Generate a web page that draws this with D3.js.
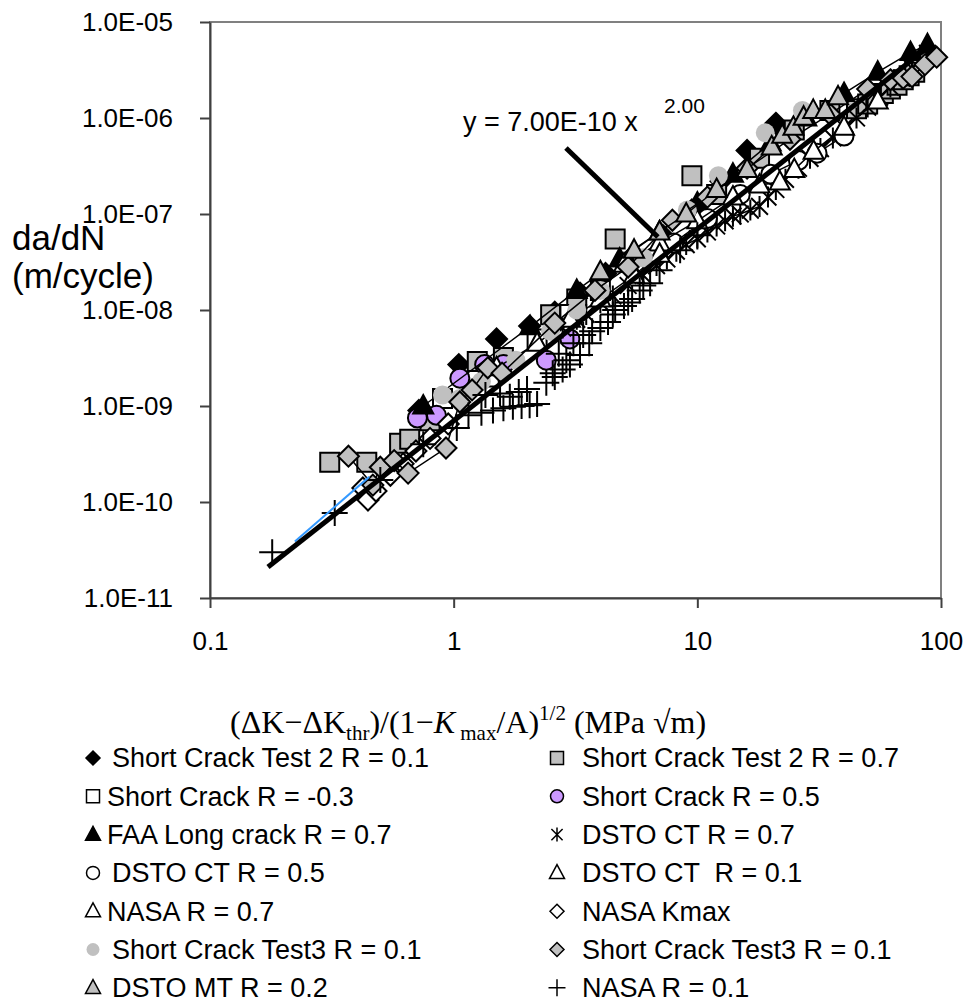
<!DOCTYPE html>
<html>
<head>
<meta charset="utf-8">
<script src="https://cdn.jsdelivr.net/npm/d3@7"></script>
<style>
  body { margin: 0; background: #fff; }
  svg { display: block; font-family: "Liberation Sans", Arial, sans-serif; }
</style>
</head>
<body>
<svg id="chart" width="965" height="1007"></svg>
<script>
// --- data ---
const xTicks = [0.1, 1, 10, 100];
const yTicks = [1e-11, 1e-10, 1e-9, 1e-8, 1e-7, 1e-6, 1e-5];

// Short Crack Test 2 R = 0.1 (black diamond)
const sct2R01X = [0.72, 0.78, 1.05, 1.5, 2.05, 2.6, 3.3, 4.2, 5.5, 7.2, 9.5, 12.5, 16, 21];
const sct2R01Y = [9.0e-10, 8.0e-10, 2.7e-9, 5.0e-9, 6.8e-9, 9.5e-9, 1.5e-8, 2.4e-8, 3.8e-8, 6.0e-8, 1.1e-7, 2.2e-7, 4.6e-7, 8.8e-7];
// Short Crack Test 2 R = 0.7 (grey square)
const sct2R07X = [0.31, 0.44, 0.6, 0.66, 0.8, 1.25, 1.6, 2.5, 3.2, 4.6, 9.5, 12, 18, 25, 35, 45, 50, 54, 58, 62, 66, 70, 74, 78];
const sct2R07Y = [2.6e-10, 2.6e-10, 4.1e-10, 4.5e-10, 7e-10, 2.9e-9, 3.2e-9, 8.9e-9, 1.3e-8, 5.5e-8, 2.5e-7, 1.6e-7, 3.8e-7, 7.5e-7, 1.2e-6, 1.25e-6, 1.4e-6, 1.6e-6, 1.8e-6, 2.0e-6, 2.2e-6, 2.5e-6, 2.75e-6, 3.0e-6];
// Short Crack R = -0.3 (open square)
const scRm03X = [0.9, 1.4, 2.2, 3.0, 4.0];
const scRm03Y = [1.2e-9, 2.0e-9, 5e-9, 9e-9, 1.6e-8];
// Short Crack R = 0.5 (purple circle)
const scR05X = [0.71, 0.85, 1.06, 1.34, 1.6, 2.4, 3.0];
const scR05Y = [7.5e-10, 8e-10, 1.95e-9, 2.7e-9, 2.7e-9, 3e-9, 5e-9];
// FAA Long crack R = 0.7 (black triangle)
const faaR07X = [0.75, 2.06, 3.2, 4.8, 7, 10, 14, 20, 28, 40, 55, 75, 88];
const faaR07Y = [1.0e-9, 6.7e-9, 1.6e-8, 3.4e-8, 6.5e-8, 1.3e-7, 2.6e-7, 5.5e-7, 1.0e-6, 1.8e-6, 3.0e-6, 4.8e-6, 5.8e-6];
// DSTO CT R = 0.7 (star)
const dctR07X = [2.8, 3.2, 3.5, 4.0, 4.5, 5.2, 6, 6.8, 7.5, 8.2, 9, 10, 11, 12, 13, 14, 15, 16.5, 18, 19.5, 21, 23, 26, 29, 32, 36, 40, 45, 50, 56, 62, 69, 76, 82, 88];
const dctR07Y = [6.5e-9, 8e-9, 9e-9, 1.2e-8, 1.4e-8, 1.8e-8, 2.3e-8, 2.9e-8, 3.4e-8, 4.1e-8, 4.8e-8, 5.5e-8, 6.5e-8, 7.5e-8, 8.5e-8, 9.5e-8, 1.0e-7, 1.1e-7, 1.2e-7, 1.5e-7, 1.8e-7, 2.3e-7, 3.0e-7, 3.8e-7, 4.8e-7, 6.2e-7, 8.0e-7, 1.0e-6, 1.3e-6, 1.65e-6, 2.1e-6, 2.6e-6, 3.3e-6, 4.0e-6, 4.7e-6];
// DSTO CT R = 0.5 (open circle)
const dctR05X = [8, 11, 15, 20, 26, 31, 40];
const dctR05Y = [5e-8, 9e-8, 1.6e-7, 2.6e-7, 3.6e-7, 4.3e-7, 6.5e-7];
// DSTO CT R = 0.1 (open triangle)
const dctR01X = [5, 7, 10, 14, 18, 21.8, 25, 30, 40, 55];
const dctR01Y = [3e-8, 5e-8, 8.5e-8, 1.5e-7, 2.0e-7, 2.15e-7, 2.9e-7, 4.5e-7, 8e-7, 1.5e-6];
// NASA R = 0.7 (open triangle)
const nasaR07X = [1.5, 2.2, 3, 4, 5.5, 7];
const nasaR07Y = [2.5e-9, 4.5e-9, 8e-9, 1.3e-8, 2.3e-8, 3.8e-8];
// NASA Kmax (open diamond)
const nasaKmaxX = [0.424, 0.445, 0.48, 0.55, 0.62, 0.7, 0.8, 0.95];
const nasaKmaxY = [1.4e-10, 1.05e-10, 1.3e-10, 1.9e-10, 2.5e-10, 3.4e-10, 4.6e-10, 6.5e-10];
// Short Crack Test3 R = 0.1 (grey circle)
const sct3CircX = [0.9, 1.06, 1.3, 1.8, 2.5, 3.2, 4.0, 6.0, 9.1, 12.2, 19, 27];
const sct3CircY = [1.3e-9, 1.2e-9, 1.8e-9, 3e-9, 6e-9, 1e-8, 1.6e-8, 3.5e-8, 1.1e-7, 2.5e-7, 7e-7, 1.2e-6];
// Short Crack Test3 R = 0.1 (grey diamond)
const sct3DiamX = [0.37, 0.466, 0.5, 0.57, 0.65, 0.93, 1.06, 1.19, 1.38, 1.58, 2.6, 3.8, 5.2, 7.9, 11, 16, 24, 35, 50, 62, 70, 76, 86, 96];
const sct3DiamY = [3e-10, 1.5e-10, 2.3e-10, 2.7e-10, 2e-10, 3.65e-10, 1.1e-9, 1.47e-9, 2.5e-9, 2.2e-9, 7.3e-9, 1.6e-8, 2.8e-8, 8.6e-8, 1.5e-7, 3e-7, 6e-7, 1.1e-6, 2.0e-6, 2.5e-6, 2.6e-6, 2.7e-6, 3.6e-6, 4.3e-6];
// DSTO MT R = 0.2 (grey triangle)
const dmtR02X = [4.0, 5.5, 7, 9, 12, 16, 20.2, 22.3, 24.8, 27.3, 29.9, 33.5, 37.8];
const dmtR02Y = [2.5e-8, 4.2e-8, 6.5e-8, 1.0e-7, 1.8e-7, 2.9e-7, 5e-7, 6.6e-7, 8e-7, 1.02e-6, 1.2e-6, 1.2e-6, 1.66e-6];
// NASA R = 0.1 (plus)
const nasaR01X = [0.18, 0.325, 0.5, 0.75, 1.03, 1.15, 1.3, 1.35, 1.45, 1.55, 1.6, 1.7, 1.75, 1.85, 1.9, 2.0, 2.05, 2.2, 2.4, 2.55, 2.6, 2.7, 2.8, 2.9, 3.0, 3.1, 3.3, 3.4, 3.6, 3.7, 4.0, 4.3, 4.5, 4.6, 5.0, 5.2, 5.4, 5.8, 6, 6.4, 7, 8.5, 10];
const nasaR01Y = [3e-11, 7.7e-11, 1.7e-10, 4e-10, 5.9e-10, 8e-10, 8.5e-10, 1.3e-9, 9e-10, 1.35e-9, 9.5e-10, 1.25e-9, 9.8e-10, 1.4e-9, 1e-9, 1.5e-9, 1.02e-9, 1.05e-9, 1.75e-9, 2.2e-9, 2.0e-9, 3.5e-9, 2.4e-9, 3.0e-9, 2.7e-9, 4.5e-9, 3.4e-9, 5.5e-9, 4.5e-9, 6e-9, 6.5e-9, 7.5e-9, 9e-9, 1.0e-8, 1.1e-8, 1.2e-8, 1.3e-8, 1.6e-8, 1.8e-8, 1.9e-8, 2.6e-8, 4.2e-8, 6e-8];

// thin blue series line at the low end, power-law fit, annotation pointer
const blueX = [0.223, 0.45];
const blueY = [3.6e-11, 1.7e-10];
const fitX = [0.173, 92];
const fitY = [2.1e-11, 5.9e-6];
const pointerX = [2.89, 6.89];
const pointerY = [4.87e-7, 5.75e-8];

// series table (legend order, left column then right column per row)
const series = [
  { name: "Short Crack Test 2 R = 0.1", x: sct2R01X, y: sct2R01Y, shape: "diamond", fill: "#000", stroke: "#000" },
  { name: "Short Crack Test 2 R = 0.7", x: sct2R07X, y: sct2R07Y, shape: "square", fill: "#c0c0c0", stroke: "#000" },
  { name: "Short Crack R = -0.3", x: scRm03X, y: scRm03Y, shape: "square", fill: "#fff", stroke: "#000", tight: true },
  { name: "Short Crack R = 0.5", x: scR05X, y: scR05Y, shape: "circle", fill: "#cc99ff", stroke: "#000" },
  { name: "FAA Long crack R = 0.7", x: faaR07X, y: faaR07Y, shape: "triangle", fill: "#000", stroke: "#000", tight: true, line: true },
  { name: "DSTO CT R = 0.7", x: dctR07X, y: dctR07Y, shape: "star", fill: "none", stroke: "#000", line: true },
  { name: "DSTO CT R = 0.5", x: dctR05X, y: dctR05Y, shape: "circle", fill: "#fff", stroke: "#000", line: true },
  { name: "DSTO CT  R = 0.1", x: dctR01X, y: dctR01Y, shape: "triangle", fill: "#fff", stroke: "#000", line: true },
  { name: "NASA R = 0.7", x: nasaR07X, y: nasaR07Y, shape: "triangle", fill: "#fff", stroke: "#000", tight: true, line: true },
  { name: "NASA Kmax", x: nasaKmaxX, y: nasaKmaxY, shape: "diamond", fill: "#fff", stroke: "#000" },
  { name: "Short Crack Test3 R = 0.1", x: sct3CircX, y: sct3CircY, shape: "circle", fill: "#c0c0c0", stroke: "none" },
  { name: "Short Crack Test3 R = 0.1", x: sct3DiamX, y: sct3DiamY, shape: "diamond", fill: "#c0c0c0", stroke: "#000", line: true },
  { name: "DSTO MT R = 0.2", x: dmtR02X, y: dmtR02Y, shape: "triangle", fill: "#c0c0c0", stroke: "#000", line: true },
  { name: "NASA R = 0.1", x: nasaR01X, y: nasaR01Y, shape: "plus", fill: "none", stroke: "#000" }
];

// marker outlines, centred on 0,0
function shapePath(shape, s) {
  switch (shape) {
    case "square": return `M${-s},${-s}H${s}V${s}H${-s}Z`;
    case "diamond": return `M0,${-s}L${s},0L0,${s}L${-s},0Z`;
    case "triangle": return `M0,${-s * 1.1}L${s},${s * 0.75}L${-s},${s * 0.75}Z`;
    case "circle": return `M${s},0A${s},${s} 0 1,1 ${-s},0A${s},${s} 0 1,1 ${s},0Z`;
    case "plus": return `M${-s},0H${s}M0,${-s}V${s}`;
    case "star": return `M${-s * 0.8},${-s * 0.8}L${s * 0.8},${s * 0.8}M${-s * 0.8},${s * 0.8}L${s * 0.8},${-s * 0.8}M0,${-s}V${s}`;
  }
}
const plotSize = { square: 9.5, diamond: 10.5, triangle: 10, circle: 9.5, plus: 13, star: 10.5 };
const legendSize = { square: 6.5, diamond: 7, triangle: 7.5, circle: 6.5, plus: 8.5, star: 7 };

const svg = d3.select("#chart");
const plot = { left: 210, right: 941, top: 22, bottom: 598 };

const x = d3.scaleLog().domain([0.1, 100]).range([plot.left, plot.right]);
const y = d3.scaleLog().domain([1e-11, 1e-5]).range([plot.bottom, plot.top]);

// plot frame
svg.append("rect")
  .attr("x", plot.left).attr("y", plot.top)
  .attr("width", plot.right - plot.left).attr("height", plot.bottom - plot.top)
  .attr("fill", "none").attr("stroke", "#808080").attr("stroke-width", 2);

// axes
const fmtE = v => {
  const e = Math.round(Math.log10(v));
  return "1.0E" + (e < 0 ? "-" : "+") + String(Math.abs(e)).padStart(2, "0");
};

const yAxis = svg.append("g")
  .attr("transform", `translate(${plot.left},0)`)
  .call(d3.axisLeft(y).tickValues(yTicks).tickFormat(fmtE).tickSize(10).tickSizeOuter(0).tickPadding(27));

const xAxis = svg.append("g")
  .attr("transform", `translate(0,${plot.bottom})`)
  .call(d3.axisBottom(x).tickValues(xTicks).tickFormat(d3.format("~g")).tickSize(10).tickSizeOuter(0).tickPadding(24));

[yAxis, xAxis].forEach(a => {
  a.select(".domain").attr("stroke", "#404040").attr("stroke-width", 2);
  a.selectAll(".tick line").attr("stroke", "#404040").attr("stroke-width", 2);
  a.selectAll(".tick text").attr("fill", "#000").style("font-size", "26px")
    .style("font-family", "'Liberation Sans', Arial, sans-serif");
});

// series lines and markers
const lineGen = d3.line().x(d => x(d[0])).y(d => y(d[1]));
const data = s => s.x.map((v, i) => [v, s.y[i]]);

const marks = svg.append("g");
series.forEach(s => {
  if (s.line) {
    marks.append("path").datum(data(s))
      .attr("d", lineGen).attr("fill", "none")
      .attr("stroke", "#000").attr("stroke-width", 1.5);
  }
  marks.append("g").selectAll("path")
    .data(data(s))
    .join("path")
    .attr("transform", d => `translate(${x(d[0])},${y(d[1])})`)
    .attr("d", shapePath(s.shape, plotSize[s.shape]))
    .attr("fill", s.fill)
    .attr("stroke", s.stroke)
    .attr("stroke-width", 2);
});

// blue series line and the power-law fit
svg.append("path").datum(blueX.map((v, i) => [v, blueY[i]]))
  .attr("d", lineGen).attr("fill", "none")
  .attr("stroke", "#3399ff").attr("stroke-width", 2)
  .attr("transform", "translate(0,-3)");

svg.append("path").datum(fitX.map((v, i) => [v, fitY[i]]))
  .attr("d", lineGen).attr("fill", "none")
  .attr("stroke", "#000").attr("stroke-width", 5);

svg.append("path").datum(pointerX.map((v, i) => [v, pointerY[i]]))
  .attr("d", lineGen).attr("fill", "none")
  .attr("stroke", "#000").attr("stroke-width", 5);

// equation label
svg.append("text").attr("x", 463).attr("y", 131)
  .style("font-size", "27px").text("y = 7.00E-10 x");
svg.append("text").attr("x", 664).attr("y", 113)
  .style("font-size", "21px").text("2.00");

// axis titles
const yTitle = svg.append("text").style("font-size", "35px");
yTitle.append("tspan").attr("x", 12).attr("y", 250).text("da/dN");
yTitle.append("tspan").attr("x", 12).attr("y", 288).text("(m/cycle)");

const xTitle = svg.append("text")
  .attr("x", 230).attr("y", 733)
  .style("font-family", "'Liberation Serif', 'Times New Roman', serif")
  .style("font-size", "32px");
xTitle.append("tspan").text("(\u0394K\u2212\u0394K");
xTitle.append("tspan").attr("dy", 7).style("font-size", "21px").text("thr");
xTitle.append("tspan").attr("dy", -7).text(")/(1\u2212");
xTitle.append("tspan").style("font-style", "italic").text("K");
xTitle.append("tspan").attr("dy", 7).style("font-size", "21px").text(" max");
xTitle.append("tspan").attr("dy", -7).text("/A)");
xTitle.append("tspan").attr("dy", -13).style("font-size", "21px").text("1/2");
xTitle.append("tspan").attr("dy", 13).text(" (MPa \u221Am)");

// legend
const legendRow0 = 758, legendStep = 38.3;
const legendCols = [{ mark: 93, text: 112 }, { mark: 557, text: 582 }];
const legend = svg.append("g");
series.forEach((s, i) => {
  const col = legendCols[i % 2];
  const row = Math.floor(i / 2);
  const cy = legendRow0 + row * legendStep;
  legend.append("path")
    .attr("transform", `translate(${col.mark},${cy})`)
    .attr("d", shapePath(s.shape, legendSize[s.shape]))
    .attr("fill", s.fill).attr("stroke", s.stroke).attr("stroke-width", 1.5);
  legend.append("text")
    .attr("x", s.tight ? col.text - 5 : col.text).attr("y", cy)
    .attr("dy", "0.35em")
    .attr("xml:space", "preserve")
    .style("white-space", "pre")
    .style("font-size", "27px")
    .text(s.name);
});
</script>
</body>
</html>
